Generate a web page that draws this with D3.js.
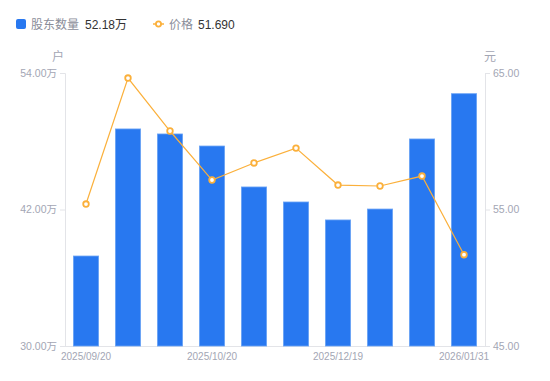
<!DOCTYPE html>
<html><head><meta charset="utf-8">
<script src="https://cdn.jsdelivr.net/npm/d3@7"></script>
<style>body{margin:0;background:#fff;}svg{display:block;font-family:"Liberation Sans","Noto Sans CJK SC",sans-serif;}</style>
</head><body>
<svg id="c" width="550" height="381"></svg>
<script>
const categories = ["2025/09/20","2025/09/30","2025/10/10","2025/10/20","2025/10/31","2025/11/30","2025/12/19","2025/12/31","2026/01/20","2026/01/31"];
const holders = [37.91, 49.08, 48.64, 47.58, 43.98, 42.66, 41.08, 42.04, 48.20, 52.18]; // 万户
const prices = [55.40, 64.63, 60.75, 57.16, 58.41, 59.50, 56.79, 56.72, 57.45, 51.69];
const leftTicks = [30, 42, 54];
const rightTicks = [45, 55, 65];
const xLabelIdx = [0, 3, 6, 9];

const svg = d3.select("#c");
const m = {l:65, r:485, t:73, b:346};
const x = d3.scaleBand().domain(categories).range([m.l, m.r]).paddingInner(0.4).paddingOuter(0.2);
const yL = d3.scaleLinear().domain([30, 54]).range([m.b, m.t]);
const yR = d3.scaleLinear().domain([45, 65]).range([m.b, m.t]);
const axisCol = "#e3e4e8", txtCol = "#a3a6b4";

// axes
const gL = svg.append("g").attr("transform", `translate(${m.l},0)`)
  .call(d3.axisLeft(yL).tickValues(leftTicks).tickSize(5).tickPadding(3).tickFormat(d => d3.format(".2f")(d) + "万"));
const gR = svg.append("g").attr("transform", `translate(${m.r},0)`)
  .call(d3.axisRight(yR).tickValues(rightTicks).tickSize(5).tickPadding(3).tickFormat(d3.format(".2f")));
const gB = svg.append("g").attr("transform", `translate(0,${m.b})`)
  .call(d3.axisBottom(x).tickValues(xLabelIdx.map(i => categories[i])).tickSize(0).tickPadding(7));
gB.select(".domain").attr("d", `M${m.l},0.5H${m.r}`);
[gL, gR, gB].forEach(g => {
  g.selectAll(".domain").attr("stroke", axisCol);
  g.selectAll(".tick line").attr("stroke", axisCol);
  g.selectAll("text").attr("fill", txtCol).attr("font-size", 11).attr("font-family", "'Liberation Sans', 'Noto Sans CJK SC', sans-serif");
});
gB.selectAll("text").attr("font-size", 10);
gL.selectAll("text").attr("font-size", 10.5);
gR.selectAll("text").attr("font-size", 10.5);

// unit labels
svg.append("text").attr("x", 58).attr("y", 61).attr("text-anchor","middle").attr("fill", txtCol).attr("font-size", 12).text("户");
svg.append("text").attr("x", 490).attr("y", 61).attr("text-anchor","middle").attr("fill", txtCol).attr("font-size", 12).text("元");

// bars
svg.append("g").selectAll("rect").data(holders).join("rect")
  .attr("x", (d,i) => x(categories[i]))
  .attr("width", x.bandwidth())
  .attr("y", d => yL(d))
  .attr("height", d => m.b - yL(d))
  .attr("fill", "#2878f0")
  .attr("stroke", "#6aa3f5").attr("stroke-width", 0.8);

// line
const cx = i => x(categories[i]) + x.bandwidth()/2;
svg.append("path").datum(prices)
  .attr("d", d3.line().x((d,i) => cx(i)).y(d => yR(d)))
  .attr("fill","none").attr("stroke","#fbb03b").attr("stroke-width", 1.2);
svg.append("g").selectAll("circle").data(prices).join("circle")
  .attr("cx", (d,i) => cx(i)).attr("cy", d => yR(d)).attr("r", 2.8)
  .attr("fill","#fff").attr("stroke","#fbb03b").attr("stroke-width", 1.8);

// legend
const lg = svg.append("g").attr("font-size", 12);
lg.append("rect").attr("x", 16).attr("y", 19).attr("width", 10).attr("height", 10).attr("rx", 2).attr("fill", "#2878f0");
lg.append("text").attr("x", 31).attr("y", 28.5).attr("fill", "#8a8d99").text("股东数量");
lg.append("text").attr("x", 85).attr("y", 28.5).attr("fill", "#333").text(d3.format(".2f")(holders[holders.length-1]) + "万");
lg.append("line").attr("x1", 153).attr("x2", 164).attr("y1", 24).attr("y2", 24).attr("stroke", "#fbb03b").attr("stroke-width", 1.5);
lg.append("circle").attr("cx", 158.5).attr("cy", 24).attr("r", 2.6).attr("fill", "#fff").attr("stroke", "#fbb03b").attr("stroke-width", 1.8);
lg.append("text").attr("x", 169).attr("y", 28.5).attr("fill", "#8a8d99").text("价格");
lg.append("text").attr("x", 198).attr("y", 28.5).attr("fill", "#333").text(d3.format(".3f")(prices[prices.length-1]));
</script>
</body></html>
